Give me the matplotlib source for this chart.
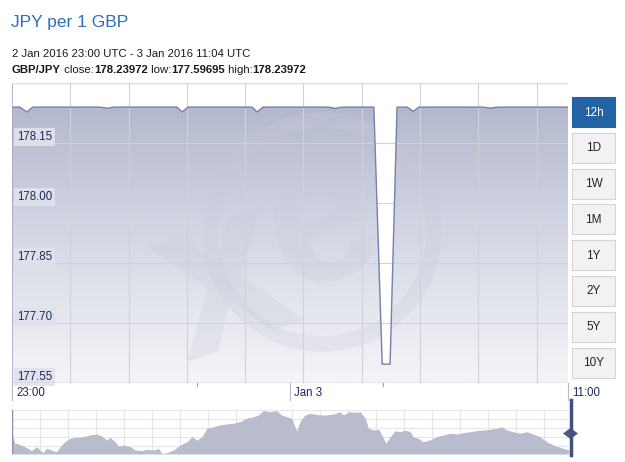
import numpy as np
import matplotlib
matplotlib.use("Agg")
import matplotlib.pyplot as plt
from matplotlib.patches import Rectangle, Polygon, Circle
from matplotlib.colors import LinearSegmentedColormap
from matplotlib.transforms import IdentityTransform

plt.rcParams["font.family"] = ["Liberation Sans", "DejaVu Sans"]

# ── data ─────────────────────────────────────────────────────────────
TITLE  = "JPY per 1 GBP"
PERIOD = "2 Jan 2016 23:00 UTC - 3 Jan 2016 11:04 UTC"
PAIR   = "GBP/JPY"
CLOSE, LOW, HIGH = "178.23972", "177.59695", "178.23972"

# hours after 2 Jan 23:00
hours = [0, 0.17, 0.32, 0.45, 1.90, 2.05, 2.20, 3.56, 3.67, 3.80, 5.18, 5.29,
         5.42, 6.82, 6.97, 7.12, 7.81, 7.99, 8.16, 8.31, 8.53, 8.66, 8.78,
         10.17, 10.32, 10.47, 12.0]
rate = [178.2397, 178.2397, 178.2275, 178.2397, 178.2397, 178.2370, 178.2397,
        178.2397, 178.2275, 178.2397, 178.2397, 178.2275, 178.2397, 178.2397,
        178.2365, 178.2397, 178.2397, 177.5970, 177.5970, 178.2397, 178.2397,
        178.2290, 178.2397, 178.2397, 178.2370, 178.2397, 178.2397]

y_ticks       = [177.55, 177.70, 177.85, 178.00, 178.15]
x_tick_hours  = [0, 6, 12]
x_tick_labels = ["23:00", "Jan 3", "11:00"]
minor_hours   = [4, 8]
ranges = ["12h", "1D", "1W", "1M", "1Y", "2Y", "5Y", "10Y"]

# navigator (long history), position 0..1 and height level
nav_pos = [0.000, 0.005, 0.008, 0.020, 0.029, 0.035, 0.044, 0.050, 0.056, 0.062,
           0.071, 0.080, 0.089, 0.095, 0.104, 0.116, 0.128, 0.140, 0.152, 0.161,
           0.170, 0.176, 0.185, 0.191, 0.200, 0.212, 0.221, 0.233, 0.242, 0.254,
           0.263, 0.269, 0.278, 0.290, 0.302, 0.314, 0.323, 0.332, 0.341, 0.350,
           0.361, 0.373, 0.385, 0.397, 0.409, 0.421, 0.433, 0.442, 0.451, 0.463,
           0.475, 0.484, 0.493, 0.502, 0.511, 0.517, 0.526, 0.535, 0.553, 0.565,
           0.577, 0.589, 0.595, 0.604, 0.616, 0.625, 0.634, 0.640, 0.649, 0.658,
           0.664, 0.671, 0.679, 0.688, 0.697, 0.706, 0.715, 0.720, 0.729, 0.738,
           0.750, 0.762, 0.774, 0.786, 0.798, 0.810, 0.822, 0.834, 0.846, 0.858,
           0.870, 0.879, 0.888, 0.900, 0.912, 0.924, 0.936, 0.948, 0.960, 0.972,
           0.984, 0.996, 1.000]
nav_level = [20.7, 10.7, 10.7, 8.0, 5.7, 3.3, 7.3, 4.0, 1.3, 5.7,
             4.0, 2.3, 9.0, 12.3, 15.7, 16.7, 17.3, 19.0, 20.0, 18.0,
             14.0, 16.7, 12.3, 8.0, 9.0, 7.3, 4.0, 3.3, 4.7, 4.0,
             5.7, 0.7, 1.3, 4.0, 9.0, 12.3, 17.3, 14.0, 17.3, 25.7,
             27.3, 29.0, 30.0, 30.7, 32.3, 35.7, 37.3, 39.0, 43.3, 42.3,
             43.3, 39.0, 37.3, 35.7, 23.3, 32.3, 39.0, 40.7, 39.0, 39.0,
             40.0, 42.3, 39.0, 42.3, 41.7, 42.3, 35.7, 25.7, 24.0, 24.7,
             19.0, 10.7, 17.3, 23.3, 22.3, 24.0, 22.3, 17.3, 15.7, 12.3,
             14.0, 17.3, 19.0, 20.7, 20.0, 21.3, 22.3, 23.3, 24.0, 24.7,
             25.7, 27.3, 24.0, 22.3, 20.7, 22.3, 20.0, 17.3, 12.3, 9.0,
             6.7, 4.7, 4.0]

# ── style ────────────────────────────────────────────────────────────
W, H = 625, 462
NAVY = "#1c2b5e"
BLUE = "#2c6fba"
LINE = "#7580a8"
GRID = "#cfd2dd"
WMARK = "#c8cbd9"


def px_box(x0, y0, x1, y1):
    return [x0 / W, 1 - y1 / H, (x1 - x0) / W, (y1 - y0) / H]


fig = plt.figure(figsize=(W / 100, H / 100), dpi=100)
fig.patch.set_facecolor("white")

# ── main chart ───────────────────────────────────────────────────────
ax = fig.add_axes(px_box(12, 83, 568, 383))
y0, y1 = 177.55, 178.30
x1 = 12.0

poly = ax.fill_between(hours, rate, y0, color="none", lw=0)
fill_path = poly.get_paths()[0]
grad = np.linspace(0, 1, 256).reshape(-1, 1)
cmap = LinearSegmentedColormap.from_list("fill", ["#f5f5f8", "#d4d7e3", "#adb2c9"])
im = ax.imshow(grad, extent=[0, x1, y0, y1], origin="lower", cmap=cmap,
               aspect="auto", zorder=1)
im.set_clip_path(fill_path, transform=ax.transData)
ax.set_xlim(0, x1)
ax.set_ylim(y0, y1)

# xe watermark (faint, only inside the filled area)
ring = Circle((322, H - 232), 112, transform=IdentityTransform(), fill=False,
              lw=11, ec=WMARK, alpha=0.28, zorder=1.5)
ax.add_patch(ring)
ring.set_clip_path(fill_path, transform=ax.transData)
for ch, fx, fy, fs in [("x", 0.383, 0.33, 165), ("e", 0.558, 0.52, 140)]:
    t = ax.text(fx, fy, ch, transform=ax.transAxes, fontsize=fs, fontweight="bold",
                ha="center", va="center", rotation=20, color=WMARK, alpha=0.28,
                zorder=1.5)
    t.set_clip_path(fill_path, transform=ax.transData)

for v in y_ticks[1:]:
    ax.axhline(v, color=GRID, lw=0.8, zorder=2)
for gx in np.arange(1, 10) * 1.258:
    ax.axvline(gx, color=GRID, lw=0.8, zorder=2)

ax.plot(hours, rate, color=LINE, lw=1.0, zorder=3)

for v in y_ticks:
    ax.annotate(f"{v:.2f}", xy=(0, v), xytext=(5, 3), textcoords="offset pixels",
                ha="left", va="baseline", fontsize=8.3, color=NAVY, zorder=4,
                bbox=dict(boxstyle="square,pad=0.25", fc="#e0e2eb", ec="none", alpha=0.9))

for s in ["left", "right", "top", "bottom"]:
    ax.spines[s].set_visible(False)
ax.axvline(0, color="#a3a9c2", lw=1.2, zorder=4)
ax.axhline(y1, color="#dadade", lw=1.0, zorder=4)
ax.axhline(y0, color="#a7abbb", lw=1.0, zorder=4)
ax.set_xticks([])
ax.set_yticks([])

# time labels + separators
for h, lab in zip(x_tick_hours, x_tick_labels):
    ax.plot([h, h], [0, -0.057], transform=ax.get_xaxis_transform(),
            clip_on=False, color="#b4b8c8", lw=0.8)
    ax.annotate(lab, xy=(h, y0), xytext=(4, -10), textcoords="offset pixels",
                ha="left", va="center", fontsize=8.3, color=NAVY, annotation_clip=False)
for h in minor_hours:
    ax.plot([h, h], [0, -0.01], transform=ax.get_xaxis_transform(),
            clip_on=False, color="#9aa0b5", lw=0.8)

# ── navigator ────────────────────────────────────────────────────────
nav = fig.add_axes(px_box(12, 405, 569, 454))
nav.set_xlim(0, 1)
nav.set_ylim(0, 49)
nav.axis("off")
for lv in np.arange(8, 45, 9):
    nav.axhline(lv, color="#e6e6ea", lw=0.8, zorder=1)
for gx in np.arange(0.05, 1.0, 0.0503):
    nav.axvline(gx, ymax=44 / 49, color="#e6e6ea", lw=0.8, zorder=1)
nav.fill_between(nav_pos, nav_level, 0, color="#b9bccd", lw=0, zorder=2)
nav.axvline(0, ymax=44 / 49, color="#8a8fa5", lw=1.0, zorder=3)

# ── overlay in pixel coordinates ─────────────────────────────────────
ov = fig.add_axes([0, 0, 1, 1], zorder=5)
ov.set_xlim(0, W)
ov.set_ylim(H, 0)
ov.axis("off")

ov.text(11, 27, TITLE, fontsize=12.5, color=BLUE, ha="left", va="baseline")
ov.text(12, 57, PERIOD, fontsize=8.2, color="#1a1a1a", ha="left", va="baseline")

fig.canvas.draw()
rend = fig.canvas.get_renderer()
pieces = [(PAIR, True), (" close:", False), (CLOSE, True), (" low:", False),
          (LOW, True), (" high:", False), (HIGH, True)]
x = 12
for s, bold in pieces:
    t = ov.text(x, 73, s, fontsize=8.2, color="#1a1a1a", ha="left", va="baseline",
                fontweight="bold" if bold else "normal")
    x += t.get_window_extent(renderer=rend).width

# range buttons
for i, lab in enumerate(ranges):
    top = 97 + i * 35.8
    active = i == 0
    ov.add_patch(Rectangle((572, top), 43, 30, fc="#2462a6" if active else "#f2f2f4",
                           ec="#2462a6" if active else "#d3d3d8", lw=0.8))
    ov.text(593.5, top + 15.5, lab, fontsize=8.5, ha="center", va="center",
            color="white" if active else "#222222")

# navigator handle
ov.plot([570.5, 570.5], [400, 455], color="#44507e", lw=2.5)
ov.add_patch(Polygon([(563, 433.5), (570.5, 428), (578, 433.5), (570.5, 439)],
                     closed=True, fc="#4a5684", ec="none"))

fig.savefig("out.png", dpi=100, facecolor="white")
